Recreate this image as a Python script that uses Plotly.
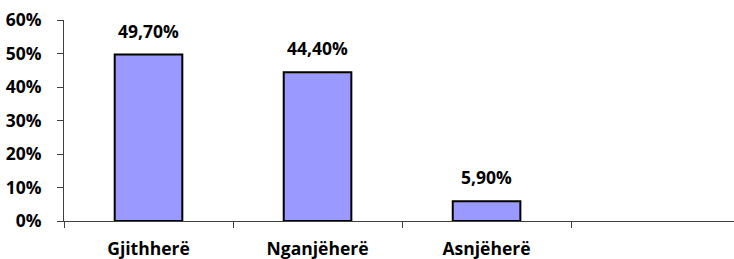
import plotly.graph_objects as go

categories = ["Gjithherë", "Nganjëherë", "Asnjëherë", " "]
values = [0.497, 0.444, 0.059, None]
y_ticks = [0, 0.1, 0.2, 0.3, 0.4, 0.5, 0.6]

font_family = "'Open Sans', sans-serif"
fsize = 17.5

fig = go.Figure()
fig.add_trace(go.Bar(
    x=categories,
    y=values,
    width=0.40,
    marker=dict(color="#9999FF", line=dict(color="#000000", width=2)),
    hoverinfo="skip",
))

for c, v in zip(categories, values):
    if v is None:
        continue
    fig.add_annotation(
        x=c, y=v, text=f"{v*100:.2f}%".replace(".", ","),
        showarrow=False, yanchor="bottom", yshift=10,
        font=dict(family=font_family, size=fsize, color="#000000", weight="bold"),
    )

fig.update_layout(
    width=734, height=259,
    margin=dict(l=64, r=0, t=20, b=38, autoexpand=False),
    plot_bgcolor="white", paper_bgcolor="white",
    showlegend=False,
    bargap=0.6,
    font=dict(family=font_family, size=fsize, color="#000000", weight="bold"),
)
fig.update_xaxes(
    type="category",
    range=[-0.5, 3.464],
    automargin=False,
    showline=True, linecolor="#404040", linewidth=1,
    ticks="outside", tickson="boundaries", ticklen=6, tickcolor="#404040",
    showgrid=False, zeroline=False,
    tickfont=dict(family=font_family, size=fsize, color="#000000", weight="bold"),
    ticklabelstandoff=12,
)
fig.update_yaxes(
    range=[0, 0.6],
    automargin=False,
    tickvals=y_ticks, tickformat=".0%",
    showline=True, linecolor="#404040", linewidth=1,
    ticks="outside", ticklen=6, tickcolor="#404040",
    showgrid=False, zeroline=False,
    tickfont=dict(family=font_family, size=fsize, color="#000000", weight="bold"),
    ticklabelstandoff=12,
)

fig.write_html(
    "out.html",
    config={"displayModeBar": False},
    post_script="document.body.style.margin='0';document.body.style.overflow='hidden';",
)
